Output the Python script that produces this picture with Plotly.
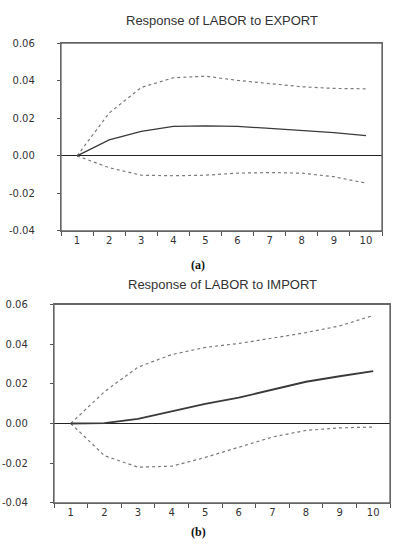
import plotly.graph_objects as go

periods = [1, 2, 3, 4, 5, 6, 7, 8, 9, 10]

export_resp = [0.0, 0.0085, 0.0130, 0.0157, 0.0160, 0.0157, 0.0146, 0.0136, 0.0124, 0.0108]
export_upper = [0.0, 0.0228, 0.0364, 0.0416, 0.0424, 0.0402, 0.0385, 0.0368, 0.0359, 0.0357]
export_lower = [0.0, -0.0063, -0.0103, -0.0106, -0.0103, -0.0092, -0.0089, -0.0092, -0.0111, -0.0145]

import_resp = [0.0, 0.0002, 0.0023, 0.0061, 0.0099, 0.0130, 0.0169, 0.0210, 0.0238, 0.0264]
import_upper = [0.0, 0.0160, 0.0284, 0.0347, 0.0383, 0.0403, 0.0430, 0.0458, 0.0491, 0.0544]
import_lower = [0.0, -0.0162, -0.0220, -0.0215, -0.0171, -0.0118, -0.0068, -0.0035, -0.0022, -0.0018]

y_ticks = [-0.04, -0.02, 0.0, 0.02, 0.04, 0.06]
y_labels = ["-0.04", "-0.02", "0.00", "0.02", "0.04", "0.06"]
x_labels = [str(p) for p in periods]
boundaries = [p - 0.5 for p in periods] + [10.5]

titles = ["Response of LABOR to EXPORT", "Response of LABOR to IMPORT"]
captions = ["(a)", "(b)"]

W, H = 397, 550
fig = go.Figure()

panels = [
    (export_resp, export_upper, export_lower, "x", "y", 1.3),
    (import_resp, import_upper, import_lower, "x2", "y2", 1.9),
]
for resp, up, lo, xa, ya, w in panels:
    fig.add_trace(go.Scatter(x=periods, y=up, mode="lines", xaxis=xa, yaxis=ya,
                             line=dict(color="#7a7a7a", width=1.2, dash="dot"), showlegend=False))
    fig.add_trace(go.Scatter(x=periods, y=lo, mode="lines", xaxis=xa, yaxis=ya,
                             line=dict(color="#7a7a7a", width=1.2, dash="dot"), showlegend=False))
    fig.add_trace(go.Scatter(x=periods, y=resp, mode="lines", xaxis=xa, yaxis=ya,
                             line=dict(color="#3a3a3a", width=w), showlegend=False))

tickfont = dict(family="DejaVu Sans, Verdana, sans-serif", size=10, color="#333333")

def xax(domain, anchor):
    return dict(domain=domain, anchor=anchor, range=[0.5, 10.5],
                tickmode="array", tickvals=periods, ticktext=x_labels, ticks="",
                minor=dict(tickmode="array", tickvals=boundaries, ticks="outside",
                           ticklen=4, tickcolor="#555555", tickwidth=1, showgrid=False),
                showgrid=False, zeroline=False, showline=True, mirror=True,
                linecolor="#666666", linewidth=1.3, tickfont=tickfont)

def yax(domain, anchor):
    return dict(domain=domain, anchor=anchor, range=[-0.04, 0.06],
                tickmode="array", tickvals=y_ticks, ticktext=y_labels,
                ticks="outside", ticklen=3, tickcolor="#555555",
                ticklabelstandoff=20,
                showgrid=False, zeroline=True, zerolinecolor="#222222", zerolinewidth=1.2,
                showline=True, mirror=True, linecolor="#666666", linewidth=1.3,
                tickfont=tickfont)

frames = []
for xa, ya in [("x", "y"), ("x2", "y2")]:
    frames.append(dict(type="rect", xref=xa + " domain", yref=ya + " domain",
                       x0=0, x1=1, y0=0, y1=1, line=dict(color="#666666", width=1.3),
                       fillcolor="rgba(0,0,0,0)", layer="above"))

fig.update_layout(
    width=W, height=H,
    margin=dict(l=0, r=0, t=0, b=0),
    paper_bgcolor="white", plot_bgcolor="white",
    xaxis=xax([61 / W, 382 / W], "y"),
    yaxis=yax([1 - 230 / H, 1 - 38 / H], "x"),
    xaxis2=xax([54 / W, 390 / W], "y2"),
    yaxis2=yax([1 - 508 / H, 1 - 305 / H], "x2"),
    shapes=frames,
    annotations=[
        dict(text=titles[0], x=(61 + 382) / 2 / W, y=1 - 15 / H, xref="paper", yref="paper",
             yanchor="middle", showarrow=False,
             font=dict(family="Liberation Sans, Arial, sans-serif", size=13, color="#333333")),
        dict(text=titles[1], x=(54 + 390) / 2 / W, y=1 - 285 / H, xref="paper", yref="paper",
             yanchor="middle", showarrow=False,
             font=dict(family="Liberation Sans, Arial, sans-serif", size=13, color="#333333")),
        dict(text="<b>" + captions[0] + "</b>", x=198 / W, y=1 - 265 / H, xref="paper", yref="paper",
             yanchor="middle", showarrow=False,
             font=dict(family="Liberation Serif, Times New Roman, serif", size=12, color="#111111")),
        dict(text="<b>" + captions[1] + "</b>", x=198 / W, y=1 - 538 / H, xref="paper", yref="paper",
             yanchor="middle", showarrow=False,
             font=dict(family="Liberation Serif, Times New Roman, serif", size=12, color="#111111")),
    ],
)

fig.write_html("out.html", config={"displayModeBar": False},
               post_script="document.body.style.margin='0';document.body.style.overflow='hidden';")
